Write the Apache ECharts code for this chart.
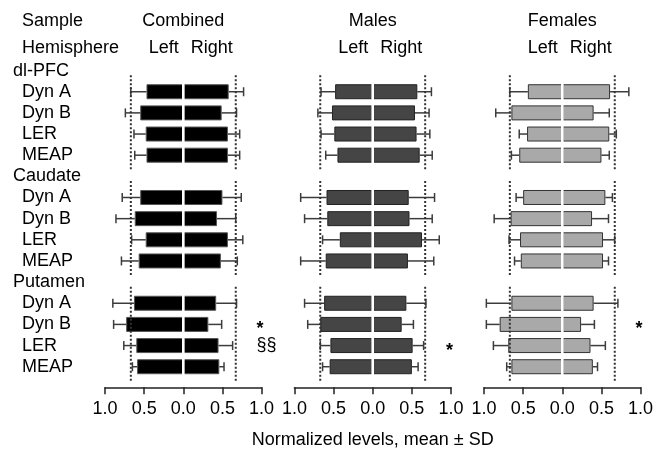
<!DOCTYPE html>
<html>
<head>
<meta charset="utf-8">
<title>Normalized levels, mean ± SD</title>
<script src="https://cdn.jsdelivr.net/npm/echarts@6/dist/echarts.min.js"></script>
<style>
    html, body { margin: 0; padding: 0; background: #fff; }
    #main { width: 665px; height: 451px; }
</style>
</head>
<body>
<div id="main"></div>
<script>
var samples = ['Combined', 'Males', 'Females'];
var regions = ['dl-PFC', 'Caudate', 'Putamen'];
var peptides = ['Dyn A', 'Dyn B', 'LER', 'MEAP'];

// row order: dl-PFC (Dyn A, Dyn B, LER, MEAP), Caudate (...), Putamen (...)
var combinedLeftMean  = [0.47, 0.55, 0.48, 0.47, 0.55, 0.62, 0.48, 0.57, 0.63, 0.73, 0.60, 0.59];
var combinedLeftSD    = [0.20, 0.19, 0.15, 0.15, 0.23, 0.24, 0.18, 0.22, 0.27, 0.16, 0.16, 0.06];
var combinedRightMean = [0.58, 0.49, 0.57, 0.57, 0.50, 0.43, 0.57, 0.48, 0.42, 0.32, 0.45, 0.46];
var combinedRightSD   = [0.19, 0.19, 0.15, 0.15, 0.24, 0.24, 0.19, 0.21, 0.26, 0.17, 0.18, 0.06];

var malesLeftMean  = [0.48, 0.52, 0.49, 0.45, 0.59, 0.58, 0.42, 0.60, 0.62, 0.67, 0.54, 0.55];
var malesLeftSD    = [0.18, 0.18, 0.17, 0.15, 0.33, 0.29, 0.22, 0.32, 0.25, 0.16, 0.13, 0.09];
var malesRightMean = [0.57, 0.54, 0.56, 0.60, 0.46, 0.47, 0.63, 0.45, 0.43, 0.37, 0.51, 0.50];
var malesRightSD   = [0.18, 0.18, 0.17, 0.16, 0.33, 0.29, 0.22, 0.33, 0.25, 0.15, 0.14, 0.08];

var femalesLeftMean  = [0.44, 0.65, 0.45, 0.55, 0.50, 0.66, 0.54, 0.53, 0.65, 0.80, 0.69, 0.65];
var femalesLeftSD    = [0.23, 0.20, 0.10, 0.10, 0.09, 0.21, 0.14, 0.08, 0.32, 0.17, 0.19, 0.06];
var femalesRightMean = [0.61, 0.40, 0.60, 0.50, 0.55, 0.38, 0.52, 0.52, 0.40, 0.24, 0.36, 0.39];
var femalesRightSD   = [0.24, 0.20, 0.09, 0.10, 0.09, 0.21, 0.15, 0.07, 0.31, 0.17, 0.19, 0.06];

// significance marks printed right of a row
var combinedMarks = ['', '', '', '', '', '', '', '', '', '*', '§§', ''];
var malesMarks    = ['', '', '', '', '', '', '', '', '', '', '*', ''];
var femalesMarks  = ['', '', '', '', '', '', '', '', '', '*', '', ''];

// dotted reference lines at +/- cutoff
var cutoff = 0.67;

var panelData = [
    [combinedLeftMean, combinedLeftSD, combinedRightMean, combinedRightSD, combinedMarks],
    [malesLeftMean, malesLeftSD, malesRightMean, malesRightSD, malesMarks],
    [femalesLeftMean, femalesLeftSD, femalesRightMean, femalesRightSD, femalesMarks]
];

// layout / style
var fontFamily = '"Liberation Sans", Arial, sans-serif';
var panelCenter = [183.3, 372.7, 562.3];
var halfWidth = 78.3;
var gridTop = 60;
var gridHeight = 317.3;
var barFill = ['#000000', '#454545', '#a9a9a9'];
var barBorder = ['#555555', '#222222', '#333333'];

var chart = echarts.init(document.getElementById('main'));

// one category per region header + one per peptide
var rowKeys = [];
regions.forEach(function (r) {
    rowKeys.push(r);
    peptides.forEach(function (p) {
        rowKeys.push(r + '|' + p);
    });
});

function rowIndex(i) {
    return Math.floor(i / peptides.length) * (peptides.length + 1) + 1 + i % peptides.length;
}

function toRows(values, sign) {
    var out = rowKeys.map(function () { return '-'; });
    values.forEach(function (v, i) {
        out[rowIndex(i)] = sign * v;
    });
    return out;
}

function whiskers(means, sds, sign) {
    return means.map(function (m, i) {
        return [sign * m, sign * (m + sds[i]), rowIndex(i)];
    });
}

function renderWhisker(params, api) {
    var from = api.coord([api.value(0), api.value(2)]);
    var to = api.coord([api.value(1), api.value(2)]);
    var style = {stroke: '#3c3c3c', lineWidth: 1.5};
    return {
        type: 'group',
        children: [
            {type: 'line', shape: {x1: from[0], y1: from[1], x2: to[0], y2: to[1]}, style: style},
            {type: 'line', shape: {x1: to[0], y1: to[1] - 4.5, x2: to[0], y2: to[1] + 4.5}, style: style}
        ]
    };
}

function renderGuides(params, api) {
    var first = api.value(1);
    var band = api.coord([0, first + 1])[1] - api.coord([0, first])[1];
    var top = api.coord([0, first])[1] - 0.78 * band;
    var bottom = api.coord([0, first + peptides.length - 1])[1] + 0.7 * band;
    var children = [-cutoff, cutoff].map(function (v) {
        var x = api.coord([v, first])[0];
        return {
            type: 'line',
            shape: {x1: x, y1: top, x2: x, y2: bottom},
            style: {stroke: '#333', lineWidth: 2, lineDash: [2, 2]}
        };
    });
    // white split between left and right hemisphere bars
    var x0 = api.coord([0, first])[0];
    children.push({
        type: 'rect',
        shape: {x: x0 - 1.3, y: top + 4, width: 2.6, height: bottom - top - 8},
        style: {fill: '#fff'}
    });
    return {type: 'group', children: children};
}

var grids = [], xAxes = [], yAxes = [], series = [];

panelData.forEach(function (d, k) {
    grids.push({
        left: panelCenter[k] - halfWidth,
        top: gridTop,
        width: 2 * halfWidth,
        height: gridHeight,
        outerBoundsMode: 'none'
    });
    xAxes.push({
        gridIndex: k,
        type: 'value',
        min: -1,
        max: 1,
        interval: 0.5,
        offset: 10,
        axisLine: {show: true, lineStyle: {color: '#222', width: 1.5}},
        axisTick: {show: true, length: 7, lineStyle: {color: '#222', width: 1.5}},
        splitLine: {show: false},
        axisLabel: {
            color: '#000',
            fontSize: 18,
            fontFamily: fontFamily,
            margin: 13,
            showMinLabel: true,
            showMaxLabel: true,
            formatter: function (v) { return Math.abs(v).toFixed(1); }
        }
    });
    yAxes.push({
        gridIndex: k,
        type: 'category',
        inverse: true,
        data: rowKeys,
        axisLine: {show: false},
        axisTick: {show: false},
        splitLine: {show: false},
        axisLabel: {
            show: k === 0,
            interval: 0,
            align: 'left',
            margin: panelCenter[0] - halfWidth - 13,
            formatter: function (v) {
                var parts = v.split('|');
                return parts.length > 1 ? '{i|' + parts[1] + '}' : '{h|' + parts[0] + '}';
            },
            rich: {
                h: {fontSize: 18, color: '#000', fontFamily: fontFamily},
                i: {fontSize: 18, color: '#000', fontFamily: fontFamily, padding: [0, 0, 0, 9]}
            }
        }
    });

    var barStyle = {color: barFill[k], borderColor: barBorder[k], borderWidth: 1};
    series.push({
        type: 'bar', name: samples[k] + ' Left', xAxisIndex: k, yAxisIndex: k,
        data: toRows(d[0], -1), barWidth: 15, barGap: '-100%',
        itemStyle: barStyle, silent: true, z: 2
    });
    series.push({
        type: 'bar', name: samples[k] + ' Right', xAxisIndex: k, yAxisIndex: k,
        data: toRows(d[2], 1), barWidth: 15, barGap: '-100%',
        itemStyle: barStyle, silent: true, z: 2
    });
    series.push({
        type: 'custom', xAxisIndex: k, yAxisIndex: k, silent: true, z: 3,
        renderItem: renderWhisker,
        encode: {x: [0, 1], y: 2},
        data: whiskers(d[0], d[1], -1).concat(whiskers(d[2], d[3], 1))
    });
    series.push({
        type: 'custom', xAxisIndex: k, yAxisIndex: k, silent: true, z: 4,
        renderItem: renderGuides,
        encode: {x: 0, y: 1},
        data: regions.map(function (r, g) { return [0, g * (peptides.length + 1) + 1]; })
    });

    var marks = d[4];
    var markRows = [], markText = [];
    marks.forEach(function (m, i) {
        if (m) {
            markRows.push([1, rowIndex(i)]);
            markText.push(m);
        }
    });
    series.push({
        type: 'custom', xAxisIndex: k, yAxisIndex: k, silent: true, z: 5,
        encode: {x: 0, y: 1},
        data: markRows,
        renderItem: function (params, api) {
            var p = api.coord([api.value(0), api.value(1)]);
            var t = markText[params.dataIndex];
            var star = t === '*';
            return {
                type: 'text',
                x: p[0] - 5,
                y: p[1] + (star ? 5 : -1),
                style: {
                    text: t,
                    fill: '#000',
                    font: (star ? 'bold ' : '') + '18px ' + fontFamily,
                    align: 'left', verticalAlign: 'middle',
                    textAlign: 'left', textVerticalAlign: 'middle'
                }
            };
        }
    });
});

function label(text, x, y, align) {
    return {
        type: 'text',
        x: x,
        y: y,
        silent: true,
        style: {
            text: text,
            fill: '#000',
            font: '18px ' + fontFamily,
            align: align, verticalAlign: 'middle',
            textAlign: align, textVerticalAlign: 'middle'
        }
    };
}

var graphics = [label('Sample', 22, 21, 'left'), label('Hemisphere', 22, 48, 'left')];
samples.forEach(function (s, k) {
    graphics.push(label(s, panelCenter[k], 21, 'center'));
    graphics.push(label('Left', panelCenter[k] - 4.5, 48, 'right'));
    graphics.push(label('Right', panelCenter[k] + 7.5, 48, 'left'));
});
graphics.push(label('Normalized levels, mean ± SD', panelCenter[1], 440, 'center'));

chart.setOption({
    animation: false,
    backgroundColor: '#fff',
    textStyle: {fontFamily: fontFamily},
    grid: grids,
    xAxis: xAxes,
    yAxis: yAxes,
    series: series,
    graphic: graphics
});
</script>
</body>
</html>
